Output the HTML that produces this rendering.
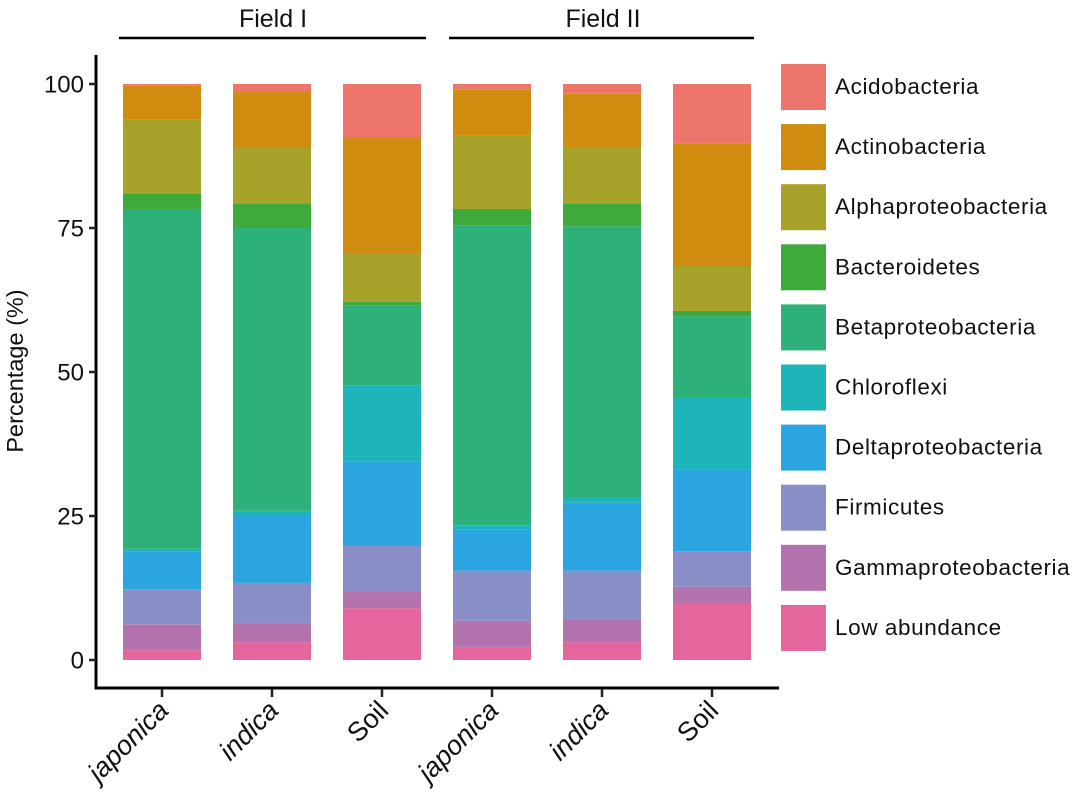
<!DOCTYPE html>
<html><head><meta charset="utf-8"><style>
body{margin:0;background:#fff;}
svg text{font-family:"Liberation Sans",Arial,sans-serif;fill:#111;}
</style></head><body>
<svg width="1080" height="804" viewBox="0 0 1080 804">
<g id="bars"></g>
<g id="axes"></g>
<g id="legend"></g>
<g>
<text x="273" y="27" font-size="25" text-anchor="middle">Field I</text>
<line x1="119" y1="38" x2="426" y2="38" stroke="#000" stroke-width="2.5"/>
<text x="603" y="27" font-size="25" text-anchor="middle">Field II</text>
<line x1="449" y1="38" x2="754" y2="38" stroke="#000" stroke-width="2.5"/>
</g>
<text transform="translate(23,371) rotate(-90)" font-size="23.5" text-anchor="middle">Percentage (%)</text>
</svg>
<script>
const categories = ["japonica","indica","Soil","japonica","indica","Soil"];
const seriesNames = ["Low abundance","Gammaproteobacteria","Firmicutes","Deltaproteobacteria","Chloroflexi","Betaproteobacteria","Bacteroidetes","Alphaproteobacteria","Actinobacteria","Acidobacteria"];
const lowAbundance = [1.7,3.1,9.0,2.3,3.1,9.9];
const gamma = [4.5,3.3,2.8,4.5,4.0,2.8];
const firmicutes = [6.1,7.0,8.0,8.7,8.4,6.2];
const delta = [6.6,11.6,14.6,7.2,11.8,14.1];
const chloroflexi = [0.4,0.9,13.3,0.7,1.0,12.5];
const beta = [59.0,49.1,13.8,52.1,47.0,14.2];
const bacteroidetes = [2.6,4.3,0.7,2.8,4.0,0.9];
const alpha = [12.9,9.6,8.3,12.7,9.6,7.8];
const actino = [5.9,9.7,20.3,8.0,9.5,21.2];
const acido = [0.3,1.4,9.2,1.0,1.6,10.4];
const yTicks = [0,25,50,75,100];

const series=[lowAbundance,gamma,firmicutes,delta,chloroflexi,beta,bacteroidetes,alpha,actino,acido];
const colors=["#E4669C","#B273AE","#8B8FC8","#2AA5E0","#1DB5BA","#2DB07A","#3DAA3B","#A6A22A","#D08C0F","#EE756B"];
const NS="http://www.w3.org/2000/svg";
const y=v=>660-v*5.76;
const xc=i=>162+i*110;
const bw=78;
const bars=document.getElementById('bars');
categories.forEach((c,i)=>{
  let cum=0;
  series.forEach((s,k)=>{
    const r=document.createElementNS(NS,'rect');
    r.setAttribute('x',xc(i)-bw/2);r.setAttribute('width',bw);
    r.setAttribute('y',y(cum+s[i]));r.setAttribute('height',s[i]*5.76);
    r.setAttribute('fill',colors[k]);
    
    
    bars.appendChild(r);cum+=s[i];
  });
});
const ax=document.getElementById('axes');
function el(t,a,p){const e=document.createElementNS(NS,t);for(const k in a)e.setAttribute(k,a[k]);(p||ax).appendChild(e);return e;}
const yl=el('line',{x1:96,y1:55,x2:96,y2:689,stroke:'#000','stroke-width':3});


const xl=el('line',{x1:94.5,y1:688,x2:779,y2:688,stroke:'#000','stroke-width':3});


yTicks.forEach(t=>{
  const l=el('line',{x1:89,y1:y(t),x2:96,y2:y(t),stroke:'#222','stroke-width':2.5});
  
  
  const tx=el('text',{x:84,y:y(t)+8.5,'font-size':24,'text-anchor':'end'});
  tx.textContent=t;
  
  
});
categories.forEach((c,i)=>{
  const l=el('line',{x1:xc(i),y1:689,x2:xc(i),y2:697,stroke:'#222','stroke-width':2.5});
  
  
  const tx=el('text',{transform:`translate(${xc(i)+8},712) rotate(-45)`,'font-size':27,'text-anchor':'end','font-style':c==='Soil'?'normal':'italic'});
  tx.textContent=c;
  
  
});
const lg=document.getElementById('legend');
const legOrder=[...seriesNames].reverse(), legCol=[...colors].reverse();
legOrder.forEach((n,k)=>{
  const yy=64+k*60.1;
  const r=el('rect',{x:781,y:yy,width:45,height:46,fill:legCol[k]},lg);
  
  
  const t=el('text',{x:835,y:yy+30,'font-size':22.5,'letter-spacing':0.6},lg);
  t.textContent=n;
  
  
});
</script>
</body></html>
